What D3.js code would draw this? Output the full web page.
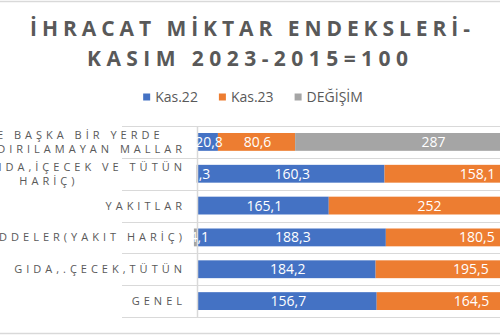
<!DOCTYPE html>
<html><head><meta charset="utf-8">
<script src="https://cdn.jsdelivr.net/npm/d3@7"></script>
<style>
body{margin:0;background:#fff;}
svg{display:block;font-family:"Open Sans",sans-serif;}
</style></head>
<body>
<svg id="chart" width="500" height="335"></svg>
<script>
const titleLines = ["İHRACAT MİKTAR ENDEKSLERİ-", "KASIM 2023-2015=100"];
const seriesNames = ["Kas.22", "Kas.23", "DEĞİŞİM"];
const categories = [
  "SITC'DE BAŞKA BİR YERDE\nSINIFLANDIRILAMAYAN MALLAR",
  "MAMUL (GIDA,İÇECEK VE TÜTÜN\nHARİÇ)",
  "YAKITLAR",
  "HAM MADDELER(YAKIT HARİÇ)",
  "GIDA,.ÇECEK,TÜTÜN",
  "GENEL"
];
const kas22 = [20.8, 160.3, 165.1, 188.3, 184.2, 156.7];
const kas23 = [80.6, 158.1, 252, 180.5, 195.5, 164.5];
const degisim = [287, -1.3, 52.6, -4.1, 6.1, 5.0];
const colors = ["#4472C4", "#ED7D31", "#A5A5A5"];

const svg = d3.select("#chart");
const textColor = "#595959";
const gridColor = "#d9d9d9";

// frame lines
svg.append("line").attr("x1",0).attr("x2",500).attr("y1",1.5).attr("y2",1.5).attr("stroke",gridColor).attr("stroke-width",1.5);
svg.append("line").attr("x1",0).attr("x2",500).attr("y1",333.5).attr("y2",333.5).attr("stroke",gridColor).attr("stroke-width",1.5);

// title
const tLayout = [{x:30,y:35.5,w:440},{x:87,y:66,w:321}];
titleLines.forEach((t,i)=>{
  svg.append("text").attr("x",tLayout[i].x).attr("y",tLayout[i].y)
    .attr("textLength",tLayout[i].w).attr("lengthAdjust","spacing")
    .attr("font-size",21).attr("font-weight","bold").attr("fill",textColor).text(t);
});

// legend
const legendG = svg.append("g");
let lx = 0;
seriesNames.forEach((name,i)=>{
  const g = legendG.append("g").attr("transform",`translate(${lx},0)`);
  g.append("rect").attr("x",0).attr("y",93.5).attr("width",7).attr("height",7).attr("fill",colors[i]);
  const tx = g.append("text").attr("x",12).attr("y",102).attr("font-size",14).attr("fill",textColor).text(name);
  const w = tx.node().getComputedTextLength();
  lx += 12 + w + 21;
});
const legendW = lx - 21;
legendG.attr("transform",`translate(${253 - legendW/2},0)`);

// scales
const y = d3.scaleBand().domain(categories).range([126,317]).paddingInner(0.44).paddingOuter(0.22);
const x = d3.scaleLinear().domain([0,1]).range([198,570]);

const rows = categories.map((c,i)=>{
  const vals = [kas22[i], kas23[i], degisim[i]];
  const tot = d3.sum(vals, v=>Math.abs(v));
  let pos = 0, neg = 0;
  return vals.map((v,j)=>{
    const p = v/tot;
    let a,b;
    if (p>=0){a=pos;b=pos+p;pos=b;} else {b=neg;a=neg+p;neg=a;}
    return {cat:c, v, a, b, j};
  });
});

// separators
const bounds = categories.map(c=>y(c)-y.step()*y.paddingInner()/2);
bounds.push(317);
bounds[0] = 126;
svg.selectAll("line.sep").data(bounds).enter().append("line")
  .attr("x1",122).attr("x2",500).attr("y1",d=>Math.round(d)+0.5).attr("y2",d=>Math.round(d)+0.5)
  .attr("stroke",gridColor).attr("stroke-width",1);

// bars
const flat = rows.flat();
svg.selectAll("rect.bar").data(flat).enter().append("rect")
  .attr("x",d=>x(d.a)).attr("width",d=>x(d.b)-x(d.a))
  .attr("y",d=>y(d.cat)).attr("height",y.bandwidth())
  .attr("fill",d=>colors[d.j]);

// axis line
svg.append("line").attr("x1",197.5).attr("x2",197.5).attr("y1",126).attr("y2",317).attr("stroke",gridColor).attr("stroke-width",1.5);

// data labels (labels lying wholly beyond the cropped right edge are not drawn)
const fmt = v => Number.isInteger(v) ? String(v) : v.toFixed(1).replace(".",",");
svg.selectAll("text.val").data(flat.filter(d=>(x(d.a)+x(d.b))/2 < 490)).enter().append("text")
  .attr("x",d=>(x(d.a)+x(d.b))/2 + 1).attr("y",d=>y(d.cat)+y.bandwidth()/2+5)
  .attr("text-anchor","middle").attr("font-size",14).attr("fill","#fff")
  .text(d=>fmt(d.v));

// category labels
const ls = 4;
categories.forEach(c=>{
  const lines = c.split("\n");
  const cy = y(c)+y.bandwidth()/2;
  const texts = lines.map((l,k)=>svg.append("text")
    .attr("font-size",11).attr("fill",textColor).attr("letter-spacing",ls)
    .attr("y", cy - (lines.length-1)*14.4/2 + k*14.4 + 4).text(l));
  const widths = texts.map(t=>t.node().getComputedTextLength()-ls);
  const maxW = d3.max(widths);
  const center = 182 - maxW/2;
  texts.forEach((t,k)=>t.attr("x", center - widths[k]/2));
});
</script>
</body></html>
